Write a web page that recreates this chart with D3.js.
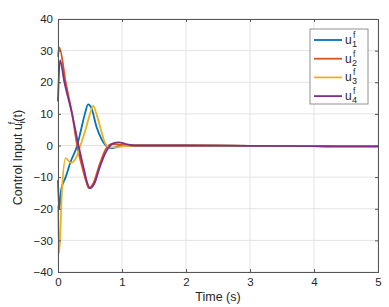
<!DOCTYPE html>
<meta charset="utf-8">
<style>
  body { margin: 0; background: #fff; }
  text { font-family: "Liberation Sans", Arial, sans-serif; fill: #262626; }
  .grid line { stroke: #e3e3e3; stroke-width: 1; }
  .axis path, .axis line { stroke: #555; }
  .series { fill: none; stroke-width: 1.8; stroke-linejoin: round; }
</style>
<body>
<script src="https://d3js.org/d3.v7.min.js"></script>
<script>

var xTicks = [0, 1, 2, 3, 4, 5],
  yTicks = [-40, -30, -20, -10, 0, 10, 20, 30, 40];

var names = ["1", "2", "3", "4"],
  colors = ["#0072BD", "#D95319", "#EDB120", "#7E2F8E"];

// time samples (s) for each series
var t1 = [0, 0.02, 0.05, 0.12, 0.2, 0.3, 0.36, 0.42, 0.47, 0.52, 0.6, 0.68, 0.78, 0.85, 0.95, 1.1, 1.5, 2, 3, 4, 4.5, 5];
var u1 = [-11, -20, -14, -10, -5, 0, 5, 10, 13, 12, 6, 2, -0.5, -0.8, -0.3, 0, 0, 0, -0.1, -0.2, -0.3, -0.25];

var t2 = [0, 0.02, 0.12, 0.22, 0.3, 0.38, 0.45, 0.48, 0.55, 0.65, 0.75, 0.85, 0.95, 1.1, 1.5, 2, 3, 4, 4.5, 5];
var u2 = [28, 31, 20, 10, 0, -7, -12, -13.5, -12, -6, -1, 0.5, 0.3, 0, 0, 0, -0.1, -0.2, -0.3, -0.25];

var t3 = [0, 0.02, 0.06, 0.12, 0.2, 0.28, 0.35, 0.43, 0.5, 0.55, 0.6, 0.67, 0.73, 0.8, 0.9, 1.0, 1.2, 1.5, 2, 3, 4, 4.5, 5];
var u3 = [-19, -34, -15, -4, -5.5, -4, 0, 5, 10, 12.5, 10, 5, 1, -0.5, -0.6, -0.3, 0, 0, 0, -0.1, -0.2, -0.3, -0.25];

var t4 = [0, 0.03, 0.1, 0.22, 0.32, 0.4, 0.46, 0.5, 0.57, 0.65, 0.75, 0.88, 0.95, 1.05, 1.2, 1.5, 2, 3, 4, 4.5, 5];
var u4 = [14, 27, 20, 10, 0, -7, -12, -13.5, -12, -7, -2, 0.8, 1, 0.5, 0, 0, 0, -0.1, -0.2, -0.3, -0.25];

var width = 389, height = 307,
  margin = { left: 58, right: 11, top: 19, bottom: 35 };

var x = d3.scaleLinear().domain([0, 5]).range([margin.left, width - margin.right]);
var y = d3.scaleLinear().domain([-40, 40]).range([height - margin.bottom, margin.top]);

var svg = d3.select("body").append("svg")
  .attr("width", width)
  .attr("height", height);

// grid
var grid = svg.append("g").attr("class", "grid");
grid.selectAll(".gx").data(xTicks).enter().append("line")
  .attr("x1", x).attr("x2", x).attr("y1", y(-40)).attr("y2", y(40));
grid.selectAll(".gy").data(yTicks).enter().append("line")
  .attr("y1", y).attr("y2", y).attr("x1", x(0)).attr("x2", x(5));

// series
var series = [[t1, u1], [t2, u2], [t3, u3], [t4, u4]];
var line = d3.line()
  .x(function (d) { return x(d[0]); })
  .y(function (d) { return y(d[1]); })
  .curve(d3.curveMonotoneX);

series.forEach(function (s, i) {
  var pts = s[0].map(function (t, j) { return [t, s[1][j]]; });
  svg.append("path")
    .datum(pts)
    .attr("class", "series")
    .attr("stroke", colors[i])
    .attr("d", line);
});

// axes
svg.append("g").attr("class", "axis")
  .attr("transform", "translate(0," + y(-40) + ")")
  .call(d3.axisBottom(x).tickValues(xTicks).tickSize(-3).tickPadding(6).tickFormat(d3.format("d")));
svg.append("g").attr("class", "axis")
  .attr("transform", "translate(0," + y(40) + ")")
  .call(d3.axisTop(x).tickValues(xTicks).tickSize(-3).tickFormat(""));
svg.append("g").attr("class", "axis")
  .attr("transform", "translate(" + x(0) + ",0)")
  .call(d3.axisLeft(y).tickValues(yTicks).tickSize(-3).tickPadding(5).tickFormat(d3.format("d")));
svg.append("g").attr("class", "axis")
  .attr("transform", "translate(" + x(5) + ",0)")
  .call(d3.axisRight(y).tickValues(yTicks).tickSize(-3).tickFormat(""));
svg.selectAll(".axis text").style("font-size", "11.5px").attr("fill", "#262626");
svg.selectAll(".axis .domain").attr("stroke", "#555");

// labels
svg.append("text")
  .attr("x", (x(0) + x(5)) / 2)
  .attr("y", 301)
  .attr("text-anchor", "middle")
  .style("font-size", "12.5px")
  .text("Time (s)");

var yl = svg.append("text")
  .attr("transform", "translate(22," + (y(0) + 12) + ") rotate(-90)")
  .attr("text-anchor", "middle")
  .style("font-size", "12.5px");
yl.append("tspan").text("Control Input u");
yl.append("tspan").attr("dy", 3).style("font-size", "9px").text("i");
yl.append("tspan").attr("dy", -10).attr("dx", -3).style("font-size", "9px").text("f");
yl.append("tspan").attr("dy", 7).text("(t)");

// legend
var lx = 310, ly = 29, lw = 58, lh = 75;
var legend = svg.append("g");
legend.append("rect")
  .attr("x", lx).attr("y", ly).attr("width", lw).attr("height", lh)
  .attr("fill", "#fff").attr("stroke", "#777").attr("stroke-width", 0.8);
names.forEach(function (n, i) {
  var ry = 40 + i * 18.7;
  legend.append("line")
    .attr("x1", 314).attr("x2", 342).attr("y1", ry).attr("y2", ry)
    .attr("stroke", colors[i]).attr("stroke-width", 1.8);
  legend.append("text").attr("x", 345).attr("y", ry + 4).style("font-size", "12px").text("u");
  legend.append("text").attr("x", 353).attr("y", ry - 2).style("font-size", "8.5px").text("f");
  legend.append("text").attr("x", 352).attr("y", ry + 7).style("font-size", "9px").text(n);
});

</script>
